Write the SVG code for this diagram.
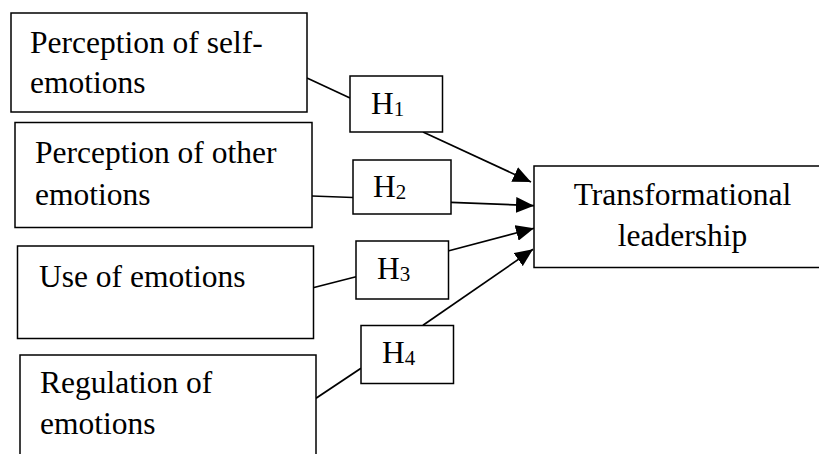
<svg xmlns="http://www.w3.org/2000/svg" width="819" height="454" viewBox="0 0 819 454">
<style>
.box{fill:#fff;stroke:#000;stroke-width:1.5}
.t{font-family:"Liberation Serif","Times New Roman",serif;font-size:31.5px;fill:#000}
.h{font-family:"Liberation Serif","Times New Roman",serif;font-size:31.5px;fill:#000}
.sub{font-size:21px}
.c{fill:none;stroke:#000;stroke-width:1.7}
</style>
<defs>
<marker id="arr" markerUnits="userSpaceOnUse" markerWidth="19" markerHeight="16" refX="18" refY="8" orient="auto">
<path d="M0,0 L18,8 L0,16 z" fill="#000"/>
</marker>
</defs>
<rect width="819" height="454" fill="#fff"/>
<g id="connectors">
<line class="c" x1="307" y1="78" x2="350" y2="98"/>
<line class="c" x1="423" y1="132" x2="531" y2="182" marker-end="url(#arr)"/>
<line class="c" x1="312" y1="196" x2="353" y2="197.5"/>
<line class="c" x1="451" y1="202.3" x2="534" y2="205.7" marker-end="url(#arr)"/>
<line class="c" x1="313" y1="287.7" x2="356" y2="276.7"/>
<line class="c" x1="448" y1="251" x2="534" y2="228.3" marker-end="url(#arr)"/>
<line class="c" x1="316" y1="398.3" x2="361" y2="368.3"/>
<line class="c" x1="423" y1="325.3" x2="533" y2="249.3" marker-end="url(#arr)"/>
</g>
<g id="n1">
<rect class="box" x="11" y="13" width="296" height="99"/>
<text class="t" x="30" y="53">Perception of self-</text>
<text class="t" x="30" y="93">emotions</text>
</g>
<g id="n2">
<rect class="box" x="15" y="122.5" width="297" height="105"/>
<text class="t" x="35" y="163">Perception of other</text>
<text class="t" x="35" y="205">emotions</text>
</g>
<g id="n3">
<rect class="box" x="17.5" y="246" width="296" height="92.5"/>
<text class="t" x="39" y="287">Use of emotions</text>
</g>
<g id="n4">
<rect class="box" x="20" y="355" width="296" height="110"/>
<text class="t" x="40" y="393">Regulation of</text>
<text class="t" x="40" y="434">emotions</text>
</g>
<g id="nT">
<rect class="box" x="534" y="166" width="300" height="101.5"/>
<text class="t" x="682.5" y="205" text-anchor="middle">Transformational</text>
<text class="t" x="682.5" y="246" text-anchor="middle">leadership</text>
</g>
<g id="h1">
<rect class="box" x="350" y="76" width="92.5" height="56"/>
<text class="h" x="371" y="114">H<tspan class="sub" dy="2">1</tspan></text>
</g>
<g id="h2">
<rect class="box" x="353" y="160" width="98" height="54"/>
<text class="h" x="373" y="197">H<tspan class="sub" dy="2">2</tspan></text>
</g>
<g id="h3">
<rect class="box" x="356" y="241" width="92.5" height="58"/>
<text class="h" x="377" y="279">H<tspan class="sub" dy="2">3</tspan></text>
</g>
<g id="h4">
<rect class="box" x="361" y="325.5" width="92.5" height="58"/>
<text class="h" x="382" y="363">H<tspan class="sub" dy="2">4</tspan></text>
</g>
</svg>
